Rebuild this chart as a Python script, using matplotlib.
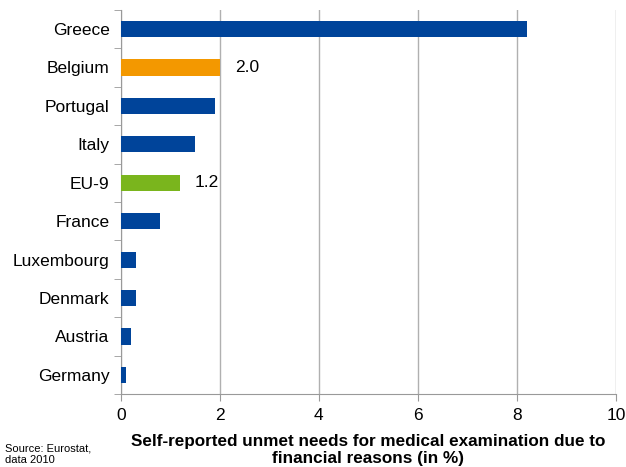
import numpy as np
import matplotlib.pyplot as plt

plt.rcParams['font.family'] = ['Liberation Sans', 'DejaVu Sans']

countries = ['Greece', 'Belgium', 'Portugal', 'Italy', 'EU-9', 'France',
             'Luxembourg', 'Denmark', 'Austria', 'Germany']
values = [8.2, 2.0, 1.9, 1.5, 1.2, 0.8, 0.3, 0.3, 0.2, 0.1]
labelled = {'Belgium': '2.0', 'EU-9': '1.2'}

blue = '#00449a'
special = {'Belgium': '#f39800', 'EU-9': '#7ab51d'}
colors = [special.get(c, blue) for c in countries]

fig = plt.figure(figsize=(6.26, 4.67), dpi=100)
ax = fig.add_axes([0.193, 0.156, 0.791, 0.823])

y = np.arange(len(countries))
ax.barh(y, values, height=0.42, color=colors, zorder=3)
for yi, c, v in zip(y, countries, values):
    if c in labelled:
        ax.text(v + 0.3, yi, labelled[c], va='center', ha='left', fontsize=12.5)

ax.set_xlim(0, 10)
ax.set_ylim(len(countries) - 0.5, -0.5)
ax.set_yticks(y)
ax.set_yticklabels(countries, fontsize=12.5)
ax.set_yticks(np.arange(len(countries) + 1) - 0.5, minor=True)
ax.tick_params(axis='y', which='major', length=0, pad=8)
ax.tick_params(axis='y', which='minor', length=5, color='#999999', direction='out')
ax.set_xticks(np.arange(0, 11, 2))
ax.tick_params(axis='x', length=5, color='#999999', labelsize=12.5, pad=5)
ax.grid(axis='x', color='#b0b0b0', linewidth=1, zorder=0)

for s in ['top', 'right']:
    ax.spines[s].set_visible(False)
for s in ['left', 'bottom']:
    ax.spines[s].set_color('#999999')

ax.set_xlabel('Self-reported unmet needs for medical examination due to\nfinancial reasons (in %)',
              fontsize=12.3, fontweight='bold', labelpad=8, linespacing=1.15)

# source note, wrapped so it sits left of the axis title
fig.text(0.008, 0.004, 'Source: Eurostat,\ndata 2010', fontsize=8, va='bottom', ha='left')

fig.savefig('out.png', dpi=100)
